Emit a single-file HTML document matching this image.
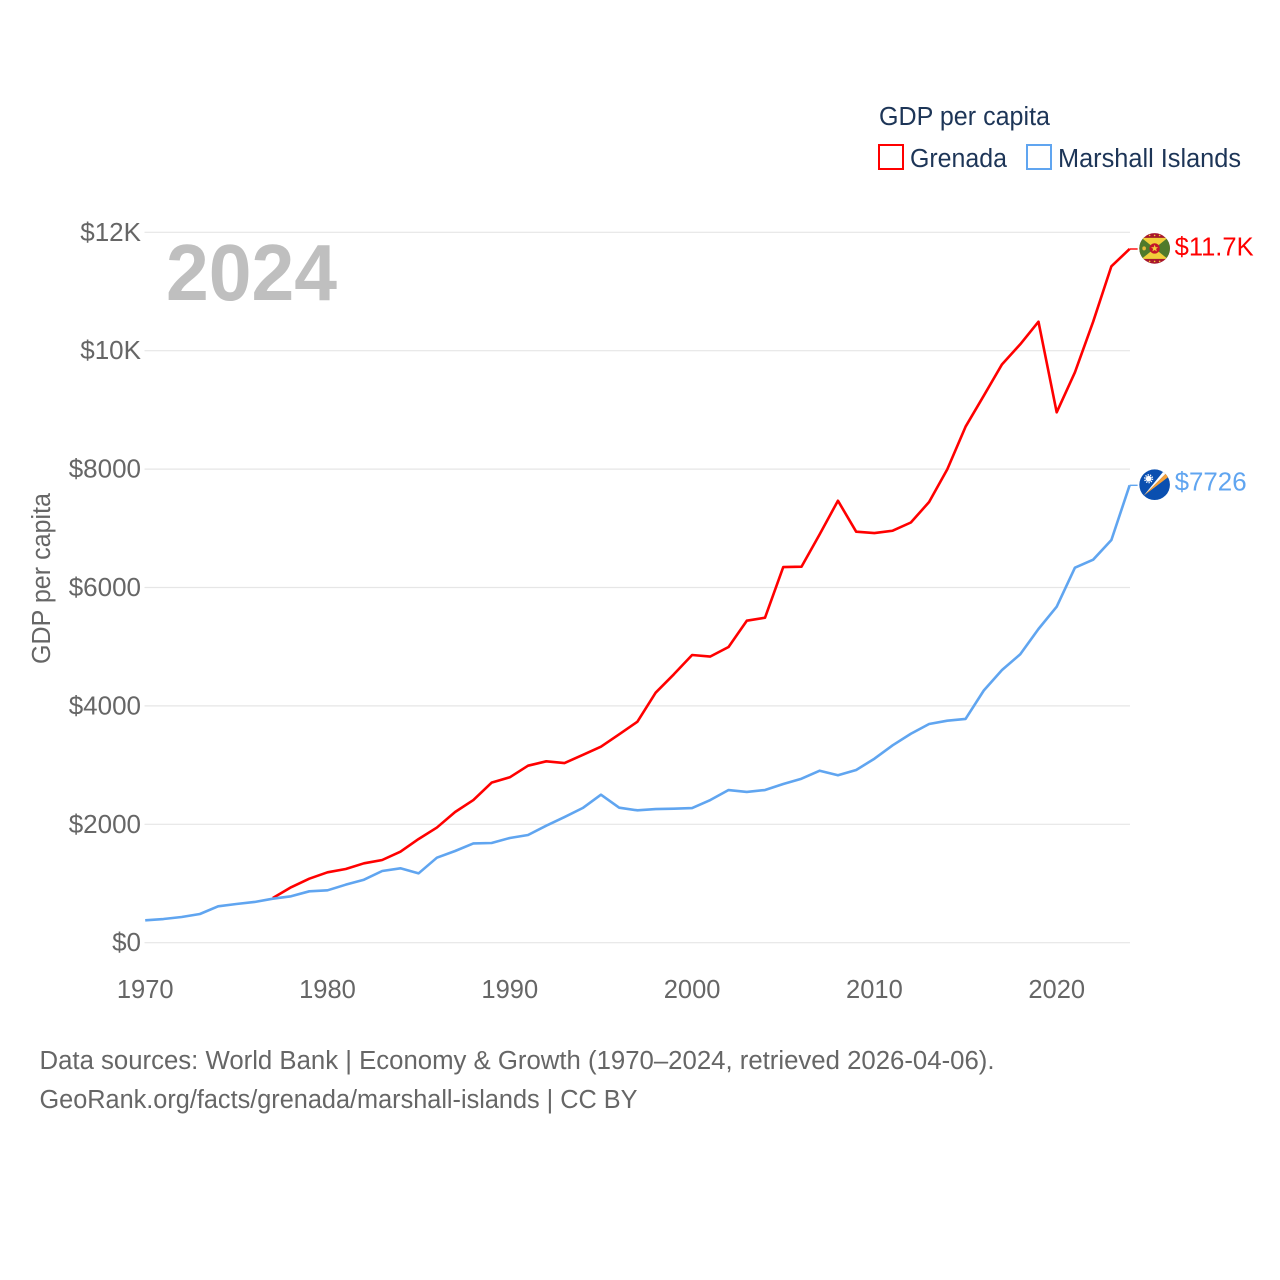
<!DOCTYPE html>
<html lang="en">
<head>
<meta charset="utf-8">
<title>GDP per capita: Grenada and Marshall Islands</title>
<style>
html,body{margin:0;padding:0;background:#fff;}
svg{display:block;font-family:"Liberation Sans",sans-serif;}
</style>
</head>
<body>
<svg id="chart" width="1280" height="1280" viewBox="0 0 1280 1280" xmlns="http://www.w3.org/2000/svg">
  <rect width="1280" height="1280" fill="#fff"/>
  <g id="grid"></g>
  <g id="yticks"></g>
  <g id="xticks"></g>

  <text x="166" y="300" font-size="80" font-weight="700" fill="#bfbfbf" textLength="171" lengthAdjust="spacingAndGlyphs">2024</text>
  <text transform="translate(50 664) rotate(-90)" font-size="25.5" fill="#666" textLength="171" lengthAdjust="spacingAndGlyphs">GDP per capita</text>

  <g id="series"></g>

  <g id="grenada-end">
    <defs><clipPath id="flagClip"><circle cx="0" cy="0" r="15.3"/></clipPath></defs>
    <g clip-path="url(#flagClip)">
      <rect x="-16" y="-16" width="32" height="32" fill="#a8162c"/>
      <polygon points="-16,-10.5 16,-10.5 16,10.5 -16,10.5" fill="#4f7a2b"/>
      <polygon points="-13,-10.5 13,-10.5 0,0" fill="#f2cf3a"/>
      <polygon points="-13,10.5 13,10.5 0,0" fill="#f2cf3a"/>
      <circle cx="0" cy="0" r="5.2" fill="#c4162a"/>
      <polygon points="0,-3.6 1,-1.1 3.5,-1.1 1.5,0.5 2.2,3 0,1.6 -2.2,3 -1.5,0.5 -3.5,-1.1 -1,-1.1" fill="#f2cf3a"/>
      <ellipse cx="-10.5" cy="0" rx="1.8" ry="2" fill="#e8b93a"/>
      <circle cx="-5" cy="-13" r="0.8" fill="#f2cf3a"/>
      <circle cx="0" cy="-13" r="0.8" fill="#f2cf3a"/>
      <circle cx="5" cy="-13" r="0.8" fill="#f2cf3a"/>
      <circle cx="-5" cy="13" r="0.8" fill="#f2cf3a"/>
      <circle cx="0" cy="13" r="0.8" fill="#f2cf3a"/>
      <circle cx="5" cy="13" r="0.8" fill="#f2cf3a"/>
    </g>
  </g>
  <g id="marshall-end">
    <g clip-path="url(#flagClip)">
      <rect x="-16" y="-16" width="32" height="32" fill="#0a4fb0"/>
      <polygon points="-11,11 9,-13.5 11.5,-11.5" fill="#ffffff"/>
      <polygon points="-11,11 11.5,-11.5 14,-8" fill="#f5a13a"/>
      <circle cx="-6" cy="-6" r="2.8" fill="#fff"/>
      <circle cx="-6" cy="-6" r="3.8" fill="none" stroke="#fff" stroke-width="1.6" stroke-dasharray="1.2 1.2"/>
    </g>
  </g>

  <g id="legend">
    <text x="879" y="125" font-size="25.5" fill="#1d3557" textLength="171" lengthAdjust="spacingAndGlyphs">GDP per capita</text>
    <g>
      <rect x="879" y="145" width="24" height="24" fill="none" stroke="#ff0000" stroke-width="2"/>
      <text x="910" y="167" font-size="25.5" fill="#1d3557" textLength="97" lengthAdjust="spacingAndGlyphs">Grenada</text>
    </g>
    <g>
      <rect x="1027" y="145" width="24" height="24" fill="none" stroke="#60a5f0" stroke-width="2"/>
      <text x="1058" y="167" font-size="25.5" fill="#1d3557" textLength="183" lengthAdjust="spacingAndGlyphs">Marshall Islands</text>
    </g>
  </g>

  <text x="39.5" y="1069" font-size="25.5" fill="#666" textLength="955" lengthAdjust="spacingAndGlyphs">Data sources: World Bank | Economy &amp; Growth (1970–2024, retrieved 2026-04-06).</text>
  <text x="39.5" y="1108" font-size="25.5" fill="#666" textLength="598" lengthAdjust="spacingAndGlyphs">GeoRank.org/facts/grenada/marshall-islands | CC BY</text>
</svg>
<script>
const yTickValues = [0, 2000, 4000, 6000, 8000, 10000, 12000];
const yTickLabels = ["$0", "$2000", "$4000", "$6000", "$8000", "$10K", "$12K"];
const xTickYears = [1970, 1980, 1990, 2000, 2010, 2020];
const grenadaYears = [1977,1978,1979,1980,1981,1982,1983,1984,1985,1986,1987,1988,1989,1990,1991,1992,1993,1994,1995,1996,1997,1998,1999,2000,2001,2002,2003,2004,2005,2006,2007,2008,2009,2010,2011,2012,2013,2014,2015,2016,2017,2018,2019,2020,2021,2022,2023,2024];
const grenadaValues = [755,936,1081,1189,1245,1341,1397,1537,1752,1945,2208,2410,2703,2794,2990,3064,3035,3171,3311,3520,3733,4223,4534,4860,4834,4995,5439,5490,6346,6351,6899,7466,6943,6920,6959,7098,7444,7997,8716,9240,9770,10108,10490,8959,9635,10490,11426,11718];
const marshallYears = [1970,1971,1972,1973,1974,1975,1976,1977,1978,1979,1980,1981,1982,1983,1984,1985,1986,1987,1988,1989,1990,1991,1992,1993,1994,1995,1996,1997,1998,1999,2000,2001,2002,2003,2004,2005,2006,2007,2008,2009,2010,2011,2012,2013,2014,2015,2016,2017,2018,2019,2020,2021,2022,2023,2024];
const marshallValues = [378,400,434,485,615,654,688,743,784,868,885,980,1064,1211,1257,1172,1436,1549,1676,1684,1769,1819,1976,2123,2275,2500,2280,2236,2258,2264,2275,2410,2579,2546,2579,2681,2770,2905,2828,2917,3108,3334,3530,3694,3750,3779,4260,4606,4872,5299,5676,6334,6470,6802,7726];
const grenadaEndLabel = "$11.7K";
const marshallEndLabel = "$7726";

const NS = "http://www.w3.org/2000/svg";
const xScale = year => 145.2 + (year - 1970) * 18.23;
const yScale = value => 942.7 - value * 0.0592;

function make(tag, attrs) {
  const node = document.createElementNS(NS, tag);
  for (const key in attrs) node.setAttribute(key, attrs[key]);
  return node;
}

const gridGroup = document.getElementById("grid");
const yTickGroup = document.getElementById("yticks");
yTickValues.forEach((value, i) => {
  const line = make("line", {x1: 144.5, x2: 1130, y1: yScale(value), y2: yScale(value), stroke: "#e6e6e6", "stroke-width": 1.2});
  
  
  gridGroup.appendChild(line);
  const label = make("text", {x: 141, y: yScale(value) + 8.5, "text-anchor": "end", "font-size": 26, fill: "#666"});
  
  
  label.textContent = yTickLabels[i];
  yTickGroup.appendChild(label);
});

const xTickGroup = document.getElementById("xticks");
xTickYears.forEach(year => {
  const label = make("text", {x: xScale(year), y: 998, "text-anchor": "middle", "font-size": 25.5, fill: "#666"});
  
  
  label.textContent = year;
  xTickGroup.appendChild(label);
});

const seriesGroup = document.getElementById("series");
function drawSeries(years, values, color) {
  const points = years.map((year, i) => xScale(year).toFixed(2) + "," + yScale(values[i]).toFixed(2)).join(" ");
  const path = make("polyline", {points: points, fill: "none", stroke: color, "stroke-width": 2.6, "stroke-linejoin": "round"});
  return path;
}
function drawConnector(years, values, color) {
  const lastYear = years[years.length - 1];
  const lastY = yScale(values[values.length - 1]);
  return make("line", {x1: xScale(lastYear), x2: xScale(lastYear) + 8, y1: lastY, y2: lastY, stroke: color, "stroke-width": 1.4});
}

const grenadaLine = drawSeries(grenadaYears, grenadaValues, "#ff0000");


seriesGroup.appendChild(grenadaLine);
const marshallLine = drawSeries(marshallYears, marshallValues, "#60a5f0");


seriesGroup.appendChild(marshallLine);
const grenadaConnector = drawConnector(grenadaYears, grenadaValues, "#ff0000");


seriesGroup.appendChild(grenadaConnector);
const marshallConnector = drawConnector(marshallYears, marshallValues, "#60a5f0");


seriesGroup.appendChild(marshallConnector);

function placeEnd(groupId, years, values, color, text, width, baselineShift) {
  const group = document.getElementById(groupId);
  const lastY = yScale(values[values.length - 1]);
  const lastX = xScale(years[years.length - 1]);
  group.setAttribute("transform", "translate(" + (lastX + 25) + " " + (lastY - 0.6) + ")");
  const label = make("text", {x: 20, y: baselineShift, "font-size": 25.5, fill: color, textLength: width, lengthAdjust: "spacingAndGlyphs"});
  label.textContent = text;
  group.appendChild(label);
  return label;
}
const grenadaLabel = placeEnd("grenada-end", grenadaYears, grenadaValues, "#ff0000", grenadaEndLabel, 79, 7.2);


const marshallLabel = placeEnd("marshall-end", marshallYears, marshallValues, "#60a5f0", marshallEndLabel, 72, 6);


</script>
</body>
</html>
